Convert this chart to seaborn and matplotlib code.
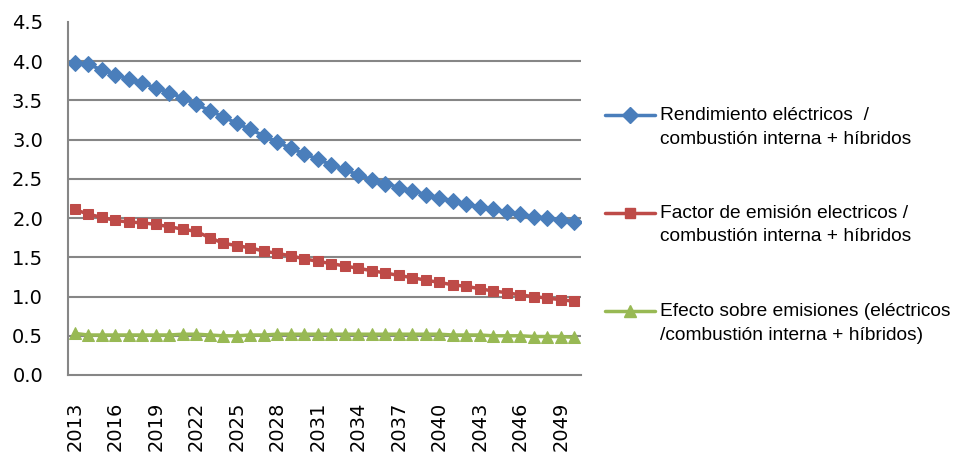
import matplotlib
matplotlib.use("Agg")
import matplotlib.pyplot as plt
from matplotlib.lines import Line2D
import numpy as np
import pandas as pd
import seaborn as sns

years = list(range(2013, 2051))
rendimiento = [3.98, 3.96, 3.89, 3.83, 3.77, 3.72, 3.66, 3.60, 3.53, 3.45,
               3.37, 3.29, 3.21, 3.13, 3.05, 2.97, 2.89, 2.82, 2.75, 2.68,
               2.62, 2.55, 2.49, 2.44, 2.39, 2.35, 2.30, 2.26, 2.22, 2.18,
               2.14, 2.11, 2.08, 2.05, 2.02, 2.00, 1.98, 1.95]
factor = [2.11, 2.05, 2.01, 1.97, 1.95, 1.94, 1.92, 1.89, 1.86, 1.83,
          1.75, 1.68, 1.65, 1.62, 1.58, 1.55, 1.52, 1.48, 1.45, 1.42,
          1.39, 1.36, 1.33, 1.30, 1.27, 1.24, 1.21, 1.18, 1.15, 1.13,
          1.10, 1.07, 1.05, 1.02, 1.00, 0.98, 0.96, 0.94]
efecto = [0.53, 0.51, 0.51, 0.51, 0.51, 0.51, 0.51, 0.51, 0.52, 0.52,
          0.51, 0.50, 0.50, 0.51, 0.51, 0.52, 0.52, 0.52, 0.52, 0.52,
          0.52, 0.52, 0.52, 0.52, 0.52, 0.52, 0.52, 0.52, 0.51, 0.51,
          0.51, 0.50, 0.50, 0.50, 0.49, 0.49, 0.49, 0.48]
labels = ["Rendimiento eléctricos  /\ncombustión interna + híbridos",
          "Factor de emisión electricos /\ncombustión interna + híbridos",
          "Efecto sobre emisiones (eléctricos\n/combustión interna + híbridos)"]
colors = ["#4A7EBB", "#BE4B48", "#98B954"]
markers = ["D", "s", "^"]
msizes = [8, 7, 8]

sns.set_theme(style="white")
plt.rcParams['font.family'] = ['DejaVu Sans']

fig = plt.figure(figsize=(9.56, 4.54), dpi=100)
ax = fig.add_axes([68/956, 79/454, (581-68)/956, (375-22)/454])

idx = np.arange(len(years))
for vals, c, m, ms in zip([rendimiento, factor, efecto], colors, markers, msizes):
    sns.lineplot(x=idx, y=vals, ax=ax, color=c, marker=m, markersize=ms,
                 markeredgecolor=c, linewidth=2.5, legend=False)

ax.set_xlim(-0.5, len(years) - 0.5)
ax.set_ylim(0, 4.5)
ax.set_yticks(np.arange(0, 4.51, 0.5))
ax.set_yticklabels([f"{v:.1f}" for v in np.arange(0, 4.51, 0.5)], fontsize=14)
ax.set_xticks(idx[::3])
ax.set_xticklabels([str(y) for y in years[::3]], rotation=90, fontsize=14)
ax.tick_params(axis='y', length=0, pad=18, colors='#000000')
ax.tick_params(axis='x', length=0, pad=19, colors='#000000')
ax.yaxis.grid(True, color='#868686', linewidth=1.5)
ax.set_axisbelow(True)
gl = ax.get_ygridlines()
gl[0].set_visible(False)
gl[-1].set_visible(False)
for s in ['top', 'right']:
    ax.spines[s].set_visible(False)
for s in ['left', 'bottom']:
    ax.spines[s].set_color('#868686')
    ax.spines[s].set_linewidth(1.5)

# legend drawn manually to align handles with the first text line
legend_y = [115, 213, 311]
for lab, c, m, ms, yy in zip(labels, colors, markers, msizes, legend_y):
    yf = 1 - yy/454
    fig.add_artist(Line2D([605/956, 655/956], [yf, yf], color=c, linewidth=2.5,
                          transform=fig.transFigure))
    fig.add_artist(Line2D([630/956], [yf], color=c, marker=m, markersize=ms,
                          markeredgecolor=c, transform=fig.transFigure))
    fig.text(660/956, yf + 8/454, lab, fontsize=13.8, va='top', ha='left',
             linespacing=1.5, family='Liberation Sans', color='#000000')

fig.savefig("out.png", dpi=100)
